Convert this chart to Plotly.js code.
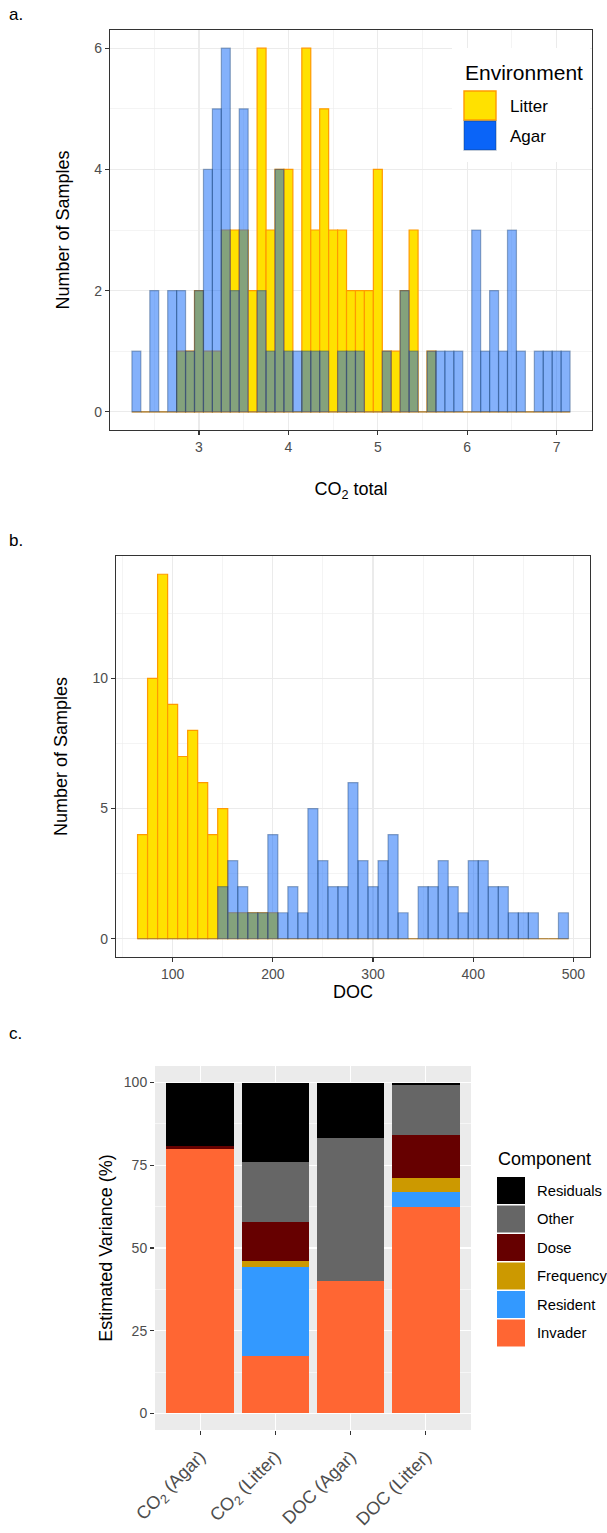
<!DOCTYPE html>
<html><head><meta charset="utf-8">
<script src="https://cdn.plot.ly/plotly-3.0.1.min.js"></script>
<style>html,body{margin:0;padding:0;background:#fff}#chart{width:607px;height:1533px}</style>
</head><body><div id="chart"></div>
<script>
// ---------- Panel a: CO2 total histogram (bin width 0.1) ----------
const co2BinCenters = [2.3,2.4,2.5,2.6,2.7,2.8,2.9,3.0,3.1,3.2,3.3,3.4,3.5,3.6,3.7,3.8,3.9,4.0,4.1,4.2,4.3,4.4,4.5,4.6,4.7,4.8,4.9,5.0,5.1,5.2,5.3,5.4,5.5,5.6,5.7,5.8,5.9,6.0,6.1,6.2,6.3,6.4,6.5,6.6,6.7,6.8,6.9,7.0,7.1];
const co2Litter = [0,0,0,0,0,1,1,2,1,1,3,3,3,2,6,3,4,4,0,6,3,5,3,3,2,2,2,4,1,1,2,3,0,1,0,0,0,0,0,0,0,0,0,0,0,0,0,0,0];
const co2Agar   = [1,0,2,0,2,2,1,2,4,5,6,2,5,0,2,1,4,1,1,1,1,1,0,1,1,1,0,0,1,0,2,1,0,1,1,1,1,0,3,1,2,1,3,1,0,1,1,1,1];
const co2BinWidth = 0.1;

// ---------- Panel b: DOC histogram (bin width 10) ----------
const docBinCenters = [70,80,90,100,110,120,130,140,150,160,170,180,190,200,210,220,230,240,250,260,270,280,290,300,310,320,330,340,350,360,370,380,390,400,410,420,430,440,450,460,470,480,490];
const docLitter = [4,10,14,9,7,8,6,4,5,1,1,1,1,1,0,0,0,0,0,0,0,0,0,0,0,0,0,0,0,0,0,0,0,0,0,0,0,0,0,0,0,0,0];
const docAgar   = [0,0,0,0,0,0,0,0,2,3,2,1,1,4,1,2,1,5,3,2,2,6,3,2,3,4,1,0,2,2,3,2,1,3,3,2,2,1,1,1,0,0,1];
const docBinWidth = 10;

// ---------- Panel c: variance components (%) ----------
const responses = ['CO<sub>2</sub> (Agar)', 'CO<sub>2</sub> (Litter)', 'DOC (Agar)', 'DOC (Litter)'];
const invader   = [79.8, 17.4, 40.0, 62.4];
const resident  = [0.0, 26.9, 0.0, 4.4];
const frequency = [0.0, 1.7, 0.0, 4.5];
const dose      = [0.9, 12.0, 0.0, 12.7];
const other     = [0.0, 17.9, 43.1, 15.4];
const residuals = [19.3, 24.1, 16.9, 0.6];
const componentNames = ['Invader','Resident','Frequency','Dose','Other','Residuals'];
const componentColors = ['#FF6633','#3399FF','#CC9900','#660000','#666666','#000000'];

const envNames = ['Litter','Agar'];

// ---------- helpers ----------
const W = 607, H = 1533;
const px = v => v / W;
const py = v => 1 - v / H;
const FONT = 'Liberation Sans, Arial, Helvetica, sans-serif';

const LITTER_FILL = '#FFE100', LITTER_LINE = '#FF9A00';
const AGAR_FILL = 'rgba(10,100,248,0.5)', AGAR_LINE = 'rgba(20,60,110,0.4)';

const traces = [];
function histPair(xs, lit, aga, w, xa, ya) {
  traces.push({type:'bar', name:'Litter', x:xs, y:lit, width:w, xaxis:xa, yaxis:ya, showlegend:false,
    marker:{color:LITTER_FILL, line:{color:LITTER_LINE, width:1.2}}});
  traces.push({type:'bar', name:'Agar', x:xs, y:aga, width:w, xaxis:xa, yaxis:ya, showlegend:false,
    marker:{color:AGAR_FILL, line:{color:AGAR_LINE, width:1.2}}});
}
histPair(co2BinCenters, co2Litter, co2Agar, co2BinWidth, 'x', 'y');
histPair(docBinCenters, docLitter, docAgar, docBinWidth, 'x2', 'y2');

const compSeries = [invader, resident, frequency, dose, other, residuals];
const cum = responses.map(() => 0);
compSeries.forEach((vals, k) => {
  traces.push({type:'bar', name:componentNames[k], x:responses, y:vals, base:cum.slice(),
    width:0.9, xaxis:'x3', yaxis:'y3', showlegend:false,
    marker:{color:componentColors[k], line:{width:0}}});
  vals.forEach((v, i) => { cum[i] += v; });
});

const tickFont = {family:FONT, size:14, color:'#4D4D4D'};
const titleFont = {family:FONT, size:18, color:'#000'};
const bwAxis = {
  ticks:'outside', ticklen:4, tickwidth:1.1, tickcolor:'#333333',
  showline:true, mirror:true, linecolor:'#333333', linewidth:1.2,
  showgrid:true, gridcolor:'#EBEBEB', gridwidth:1.1, zeroline:false,
  tickfont:tickFont, fixedrange:true
};

const layout = {
  width:W, height:H, autosize:false,
  margin:{l:0,r:0,t:0,b:0}, paper_bgcolor:'#fff', plot_bgcolor:'#fff',
  barmode:'overlay', bargap:0, hovermode:false, showlegend:false,
  font:{family:FONT, color:'#000'},
  xaxis: Object.assign({}, bwAxis, {domain:[px(110),px(592)], anchor:'y', range:[2.005,7.395],
    tickmode:'linear', tick0:0, dtick:1,
    minor:{dtick:0.5, showgrid:true, gridcolor:'#EBEBEB', gridwidth:0.55},
    title:{text:'CO<sub>2</sub> total', font:titleFont, standoff:28}}),
  yaxis: Object.assign({}, bwAxis, {domain:[py(430),py(30)], anchor:'x', range:[-0.3,6.3],
    tickmode:'linear', tick0:0, dtick:2,
    minor:{dtick:1, showgrid:true, gridcolor:'#EBEBEB', gridwidth:0.55},
    title:{text:'Number of Samples', font:titleFont, standoff:20}}),
  xaxis2: Object.assign({}, bwAxis, {domain:[px(116),px(590)], anchor:'y2', range:[43.5,516.5],
    tickmode:'linear', tick0:0, dtick:100,
    minor:{dtick:50, showgrid:true, gridcolor:'#EBEBEB', gridwidth:0.55},
    title:{text:'DOC', font:titleFont, standoff:4}}),
  yaxis2: Object.assign({}, bwAxis, {domain:[py(957),py(556)], anchor:'x2', range:[-0.7,14.7],
    tickmode:'linear', tick0:0, dtick:5,
    minor:{dtick:2.5, showgrid:true, gridcolor:'#EBEBEB', gridwidth:0.55},
    title:{text:'Number of Samples', font:titleFont, standoff:20}}),
  xaxis3: {domain:[px(155),px(471)], anchor:'y3', type:'category', range:[-0.6,3.6],
    showline:false, ticks:'outside', ticklen:4, tickwidth:1.1, tickcolor:'#333333',
    showgrid:true, gridcolor:'#FFFFFF', gridwidth:1.1, zeroline:false, tickangle:-45,
    ticklabelstandoff:4,
    tickfont:{family:FONT, size:18, color:'#4D4D4D'}, fixedrange:true},
  yaxis3: {domain:[py(1430),py(1066)], anchor:'x3', range:[-5,105],
    tickmode:'linear', tick0:0, dtick:25,
    showline:false, ticks:'outside', ticklen:4, tickwidth:1.1, tickcolor:'#333333',
    showgrid:true, gridcolor:'#FFFFFF', gridwidth:1.1, zeroline:false,
    minor:{dtick:12.5, showgrid:true, gridcolor:'#FFFFFF', gridwidth:0.55},
    tickfont:tickFont, fixedrange:true,
    title:{text:'Estimated Variance (%)', font:titleFont, standoff:6}},
  shapes:[], annotations:[]
};

// panel c grey background
layout.shapes.push({type:'rect', xref:'x3 domain', yref:'y3 domain', x0:0, x1:1, y0:0, y1:1,
  fillcolor:'#EBEBEB', line:{width:0}, layer:'below'});

// panel letters
[['a.',15],['b.',540],['c.',1033]].forEach(([t,y]) => {
  layout.annotations.push({text:t, xref:'paper', yref:'paper', x:px(7), y:py(y),
    xanchor:'left', yanchor:'middle', showarrow:false, font:{family:FONT, size:17, color:'#000'}});
});

// panel a legend (Environment)
layout.shapes.push({type:'rect', xref:'paper', yref:'paper', x0:px(452), x1:px(590), y0:py(162), y1:py(48),
  fillcolor:'#FFFFFF', line:{width:0}, layer:'above'});
layout.annotations.push({text:'Environment', xref:'paper', yref:'paper', x:px(463), y:py(72),
  xanchor:'left', yanchor:'middle', showarrow:false, font:{family:FONT, size:21, color:'#000'}});
const envKeyFill = ['#FFE100', '#0A64F8'];
const envKeyLine = [LITTER_LINE, 'rgba(20,60,110,0.35)'];
envNames.forEach((n, i) => {
  const y0 = 91 + i * 30;
  layout.shapes.push({type:'rect', xref:'paper', yref:'paper', x0:px(464), x1:px(496), y0:py(y0+29), y1:py(y0),
    fillcolor:envKeyFill[i], line:{color:envKeyLine[i], width:1.4}, layer:'above'});
  layout.annotations.push({text:n, xref:'paper', yref:'paper', x:px(508), y:py(y0+15),
    xanchor:'left', yanchor:'middle', showarrow:false, font:{family:FONT, size:17, color:'#000'}});
});

// panel c legend (Component) - top to bottom
layout.annotations.push({text:'Component', xref:'paper', yref:'paper', x:px(496), y:py(1159),
  xanchor:'left', yanchor:'middle', showarrow:false, font:{family:FONT, size:18, color:'#000'}});
for (let r = 0; r < componentNames.length; r++) {
  const k = componentNames.length - 1 - r;
  const y0 = 1177 + r * 28.5;
  layout.shapes.push({type:'rect', xref:'paper', yref:'paper', x0:px(497), x1:px(525), y0:py(y0+27), y1:py(y0),
    fillcolor:componentColors[k], line:{width:0}, layer:'above'});
  layout.annotations.push({text:componentNames[k], xref:'paper', yref:'paper', x:px(535), y:py(y0+13.5),
    xanchor:'left', yanchor:'middle', showarrow:false, font:{family:FONT, size:14.8, color:'#000'}});
}

Plotly.newPlot('chart', traces, layout, {staticPlot:true, displayModeBar:false});
</script>
</body></html>
